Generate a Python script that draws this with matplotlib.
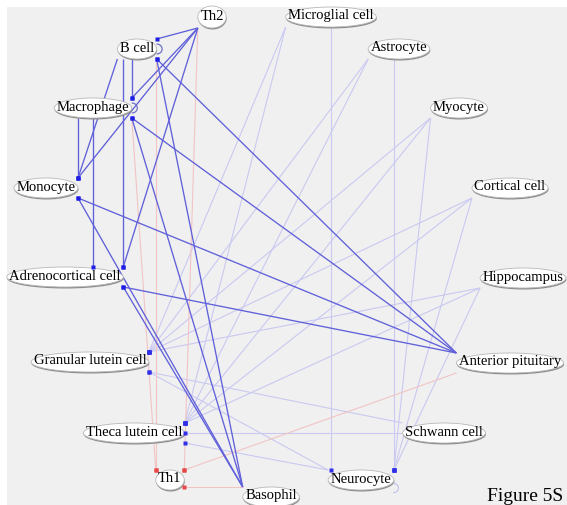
import matplotlib.pyplot as plt
from matplotlib.patches import Ellipse, Rectangle, Arc

# Cell types and their place in the (roughly circular) network layout
names = ['Th2', 'Microglial cell', 'Astrocyte', 'Myocyte', 'Cortical cell',
         'Hippocampus', 'Anterior pituitary', 'Schwann cell', 'Neurocyte',
         'Basophil', 'Th1', 'Theca lutein cell', 'Granular lutein cell',
         'Adrenocortical cell', 'Monocyte', 'Macrophage', 'B cell']
node_x = [212, 331, 399, 459, 510, 523, 510, 444, 361, 271, 170, 134, 90, 65, 46, 93, 137]
node_y = [17, 17, 49, 108, 188, 278, 363, 433, 480, 497, 480, 433, 362, 277, 188, 108, 49]

# Interactions: first name is the end that carries the arrow dot
strong_edges = [
    ('B cell', 'Th2'), ('Macrophage', 'Th2'), ('Monocyte', 'Th2'),
    ('Adrenocortical cell', 'Th2'), ('Macrophage', 'B cell'), ('Monocyte', 'B cell'),
    ('Adrenocortical cell', 'B cell'), ('Monocyte', 'Macrophage'),
    ('Adrenocortical cell', 'Macrophage'),
    ('B cell', 'Basophil'), ('Macrophage', 'Basophil'), ('Monocyte', 'Basophil'),
    ('Adrenocortical cell', 'Basophil'),
    ('B cell', 'Anterior pituitary'), ('Macrophage', 'Anterior pituitary'),
    ('Monocyte', 'Anterior pituitary'), ('Adrenocortical cell', 'Anterior pituitary'),
]
weak_edges = [
    ('Granular lutein cell', 'Microglial cell'), ('Granular lutein cell', 'Astrocyte'),
    ('Granular lutein cell', 'Myocyte'), ('Granular lutein cell', 'Cortical cell'),
    ('Granular lutein cell', 'Hippocampus'), ('Granular lutein cell', 'Schwann cell'),
    ('Granular lutein cell', 'Neurocyte'),
    ('Theca lutein cell', 'Microglial cell'), ('Theca lutein cell', 'Astrocyte'),
    ('Theca lutein cell', 'Myocyte'), ('Theca lutein cell', 'Cortical cell'),
    ('Theca lutein cell', 'Hippocampus'), ('Theca lutein cell', 'Schwann cell'),
    ('Theca lutein cell', 'Neurocyte'),
    ('Neurocyte', 'Microglial cell'), ('Neurocyte', 'Astrocyte'), ('Neurocyte', 'Myocyte'),
    ('Neurocyte', 'Cortical cell'), ('Neurocyte', 'Hippocampus'),
]
th1_edges = [('Th1', 'Th2'), ('Th1', 'B cell'), ('Th1', 'Macrophage'),
             ('Th1', 'Anterior pituitary'), ('Th1', 'Basophil')]
self_loops = ['B cell', 'Macrophage', 'Neurocyte']

fig = plt.figure(figsize=(5.67, 5.05), dpi=100)
ax = fig.add_axes([0, 0, 1, 1])
ax.set_xlim(0, 567)
ax.set_ylim(505, 0)
ax.axis('off')
ax.add_patch(Rectangle((7, 7), 560, 498, facecolor='#f0f0f0', edgecolor='none', zorder=0))

# Labels first, so the node ellipses can be sized from the text
renderer = fig.canvas.get_renderer()
boxes = {}
for name, x, y in zip(names, node_x, node_y):
    t = ax.text(x, y - 1, name, ha='center', va='center', fontsize=10.5,
                family='Liberation Serif', color='black', zorder=6)
    w = t.get_window_extent(renderer).width + 5
    h = 22 if name == 'Th2' else 20
    boxes[name] = (x, y, x - w / 2, x + w / 2, y - h / 2, y + h / 2)
    ax.add_patch(Ellipse((x + 0.5, y + 1.5), w, h, facecolor='#8c8c8c', edgecolor='none', zorder=4))
    ax.add_patch(Ellipse((x, y), w, h, facecolor='white', edgecolor='#b8b8b8', lw=0.6, zorder=5))


def endpoints(a, b):
    ca, cb = boxes[a], boxes[b]
    lo, hi = max(ca[2], cb[2]), min(ca[3], cb[3])
    if lo <= hi:
        upper = ca if ca[1] < cb[1] else cb
        x = min(max(upper[0], lo), hi)
        ya = ca[5] if ca[1] < cb[1] else ca[4]
        yb = cb[5] if cb[1] < ca[1] else cb[4]
        return (x, ya), (x, yb)
    lo, hi = max(ca[4], cb[4]), min(ca[5], cb[5])
    if lo <= hi:
        left = ca if ca[0] < cb[0] else cb
        y = min(max(left[1], lo), hi)
        xa = ca[3] if ca[0] < cb[0] else ca[2]
        xb = cb[3] if cb[0] < ca[0] else cb[2]
        return (xa, y), (xb, y)

    def corner(c, px, py):
        xs = c[2] if abs(c[2] - px) < abs(c[3] - px) else c[3]
        ys = c[4] if abs(c[4] - py) < abs(c[5] - py) else c[5]
        return xs, ys
    return corner(ca, cb[0], cb[1]), corner(cb, ca[0], ca[1])


def draw_edges(edges, color, lw, dot_color, z):
    for a, b in edges:
        pa, pb = endpoints(a, b)
        ax.plot([pa[0], pb[0]], [pa[1], pb[1]], color=color, lw=lw, zorder=z,
                solid_capstyle='butt')
        ax.plot(pa[0], pa[1], marker='s', ms=2.5, color=dot_color, mec='none', zorder=7)


draw_edges(weak_edges, '#c9c9f2', 0.8, '#3030e8', 1)
draw_edges(th1_edges, '#f2c4c4', 0.8, '#e84848', 2)
draw_edges(strong_edges, '#6060da', 0.95, '#1e1ee6', 3)

# small self-interaction loops on the right of the node
for name in self_loops:
    c = boxes[name]
    if name == 'Neurocyte':
        ax.add_patch(Arc((c[3], c[5] - 2), 9, 9, theta1=-100, theta2=100,
                         color='#c0c0ee', lw=0.8, zorder=6))
    else:
        ax.add_patch(Arc((c[3], c[1]), 11, 10, theta1=-90, theta2=90,
                         color='#7070c8', lw=0.9, zorder=6))

ax.text(487, 501, 'Figure 5S', fontsize=14, family='Liberation Serif',
        ha='left', va='baseline', color='black', zorder=8)

fig.savefig('out.png', dpi=100)
